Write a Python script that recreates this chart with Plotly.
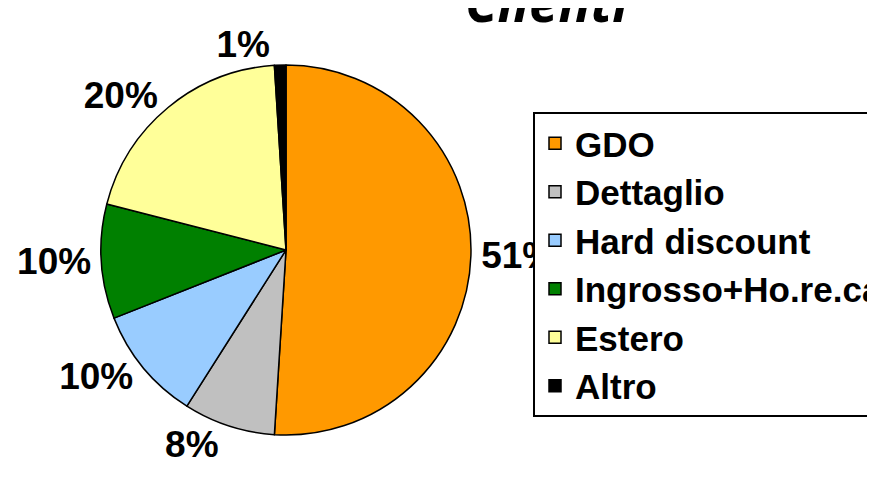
import plotly.graph_objects as go

labels = ["GDO", "Dettaglio", "Hard discount", "Ingrosso+Ho.re.ca", "Estero", "Altro"]
values = [51, 8, 10, 10, 20, 1]
colors = ["#FF9900", "#C0C0C0", "#99CCFF", "#008000", "#FFFF99", "#000000"]
title_text = "Clienti"

W, H = 875, 479
OFF = 8  # page body margin
cx, cy, r = 286 - OFF, 250 - OFF, 185

fig = go.Figure(go.Pie(
    labels=labels,
    values=values,
    sort=False,
    direction="clockwise",
    rotation=0,
    marker=dict(colors=colors, line=dict(color="black", width=1.5)),
    textinfo="percent",
    textposition="outside",
    textfont=dict(family="Liberation Sans", size=37, color="black", weight="bold"),
    domain=dict(x=[(cx - r) / W, (cx + r) / W], y=[1 - (cy + r) / H, 1 - (cy - r) / H]),
    hoverinfo="skip",
))

fig.add_annotation(
    text=title_text, x=(547 - OFF) / W, y=1 - (40 - OFF) / H, xref="paper", yref="paper",
    xanchor="center", yanchor="bottom", showarrow=False,
    font=dict(family="Open Sans", size=53, style="italic", weight="bold", color="black"),
)

fig.update_layout(
    width=W, height=H,
    margin=dict(l=0, r=0, t=0, b=0, autoexpand=False),
    paper_bgcolor="white",
    plot_bgcolor="white",
    showlegend=True,
    legend=dict(
        x=(533 - OFF) / W, y=1 - (112 - OFF) / H, xanchor="left", yanchor="top",
        bordercolor="black", borderwidth=2, bgcolor="white",
        font=dict(family="Liberation Sans", size=35, color="black", weight="bold"),
        traceorder="normal",
    ),
)

fig.write_html("out.html")
